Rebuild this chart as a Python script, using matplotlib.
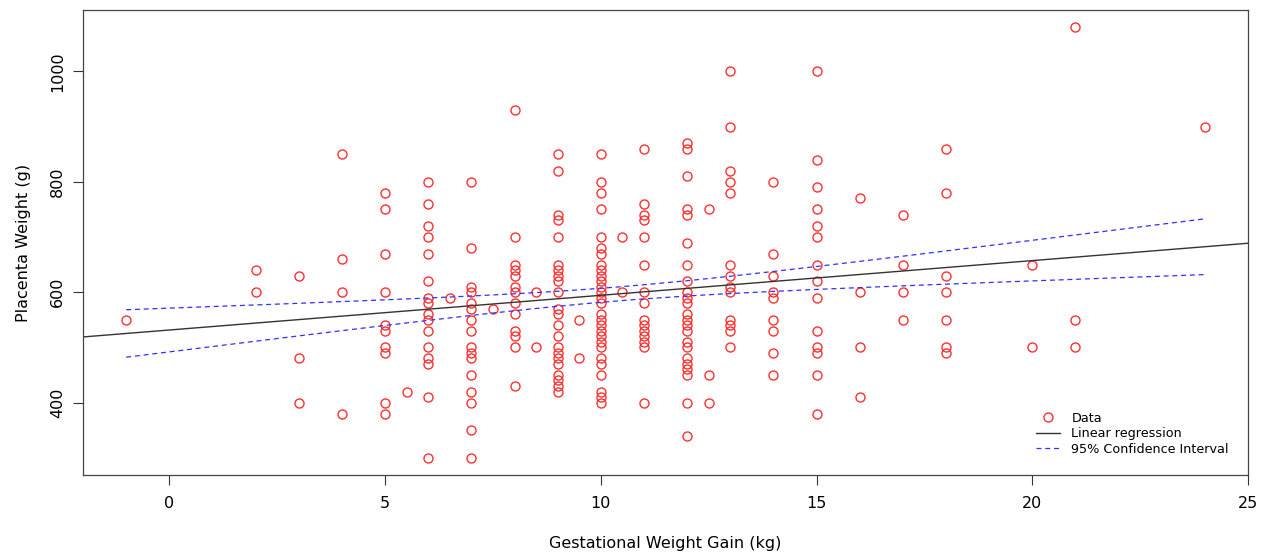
import numpy as np
import matplotlib
matplotlib.use("Agg")
import matplotlib.pyplot as plt

# gestational weight gain (kg) -> placenta weights (g), read column by column
gain_values = {
    -1: [550],
    2: [640, 600],
    3: [630, 480, 400],
    4: [850, 660, 600, 380],
    5: [780, 750, 670, 600, 540, 530, 500, 490, 400, 380],
    5.5: [420],
    6: [800, 760, 720, 700, 670, 620, 590, 580, 560, 550, 530, 500, 480, 470, 410, 300],
    6.5: [590],
    7: [800, 680, 610, 600, 580, 570, 550, 530, 500, 490, 480, 450, 420, 400, 350, 300],
    7.5: [570],
    8: [930, 700, 650, 640, 630, 610, 600, 580, 560, 530, 520, 500, 430],
    8.5: [600, 500],
    9: [850, 820, 740, 730, 700, 650, 640, 630, 620, 600, 570, 560, 540, 520,
        500, 490, 480, 470, 450, 440, 430, 420],
    9.5: [550, 480],
    10: [850, 800, 780, 750, 700, 680, 670, 650, 640, 630, 620, 610, 600, 590,
         580, 560, 550, 540, 530, 520, 510, 500, 480, 470, 450, 420, 410, 400],
    10.5: [700, 600],
    11: [860, 760, 740, 730, 700, 650, 600, 580, 550, 540, 530, 520, 510, 500, 400],
    12: [870, 860, 810, 750, 740, 690, 650, 620, 600, 590, 580, 560, 550, 540,
         530, 510, 500, 480, 470, 460, 450, 400, 340],
    12.5: [750, 450, 400],
    13: [1000, 900, 820, 800, 780, 650, 630, 610, 600, 550, 540, 530, 500],
    14: [800, 670, 630, 600, 590, 550, 530, 490, 450],
    15: [1000, 840, 790, 750, 720, 700, 650, 620, 590, 530, 500, 490, 450, 380],
    16: [770, 600, 500, 410],
    17: [740, 650, 600, 550],
    18: [860, 780, 630, 600, 550, 500, 490],
    20: [650, 500],
    21: [1080, 550, 500],
    24: [900],
}

# repeated observations hidden under the circles above
# (estimated from the width of the confidence band in the original)
overlapping = {
    6: [550, 580, 620, 670, 700],
    8: [530, 580, 600, 610, 650] * 2,
    9: [540, 560, 600, 620, 650] * 3,
    10: [520, 550, 600, 620, 650, 680] * 5,
    11: [500, 550, 600, 650, 700] * 2,
    12: [550, 580, 600, 620, 650] * 3,
    13: [530, 550, 600, 630, 650] * 2,
    15: [500, 590, 620, 650, 700],
}

def flatten(d):
    xs = [g for g, ws in d.items() for _ in ws]
    ys = [w for ws in d.values() for w in ws]
    return np.array(xs, dtype=float), np.array(ys, dtype=float)

vis_gain, vis_placenta = flatten(gain_values)
dup_gain, dup_placenta = flatten(overlapping)
gain = np.concatenate([vis_gain, dup_gain])
placenta = np.concatenate([vis_placenta, dup_placenta])

# linear fit and 95% confidence band for the mean
n = len(gain)
slope, intercept = np.polyfit(gain, placenta, 1)
resid = placenta - (intercept + slope * gain)
s = np.sqrt(np.sum(resid ** 2) / (n - 2))
sxx = np.sum((gain - gain.mean()) ** 2)
t_crit = 1.968
xs = np.sort(np.unique(gain))
fit = intercept + slope * xs
half = t_crit * s * np.sqrt(1 / n + (xs - gain.mean()) ** 2 / sxx)

fig = plt.figure(figsize=(12.68, 5.59), dpi=100)
ax = fig.add_axes([0.0655, 0.1503, 0.9187, 0.8317])

ax.plot(vis_gain, vis_placenta, 'o', mfc='none', mec='#ff3030', mew=1.0, ms=6.5, label='Data')
ax.set_xlim(-2, 25)
ax.set_ylim(268.8, 1111.2)
xl = np.array(ax.get_xlim())
ax.plot(xl, intercept + slope * xl, color='#333333', lw=1.0, label='Linear regression')
ax.plot(xs, fit + half, '--', color='#3030ff', lw=0.9, dashes=(4, 3), label='95% Confidence Interval')
ax.plot(xs, fit - half, '--', color='#3030ff', lw=0.9, dashes=(4, 3))

ax.set_xticks([0, 5, 10, 15, 20, 25])
ax.set_yticks([400, 600, 800, 1000])
ax.tick_params(direction='out', length=7, width=0.8, labelsize=11.5, pad=8, colors='#333333')
ax.tick_params(axis='y', pad=6)
ax.tick_params(labelcolor='black')
for lab in ax.get_yticklabels():
    lab.set_rotation(90)
    lab.set_va('center')
for sp in ax.spines.values():
    sp.set_color('#444444')
    sp.set_linewidth(0.9)

ax.set_xlabel('Gestational Weight Gain (kg)', fontsize=11.5, labelpad=18)
ax.set_ylabel('Placenta Weight (g)', fontsize=11.5, labelpad=14)

ax.legend(loc='lower right', frameon=False, fontsize=9.2, handlelength=1.9,
          handletextpad=0.9, labelspacing=0.2, borderaxespad=1.1,
          bbox_to_anchor=(1.0, 0.0))

fig.savefig('out.png', dpi=100)
